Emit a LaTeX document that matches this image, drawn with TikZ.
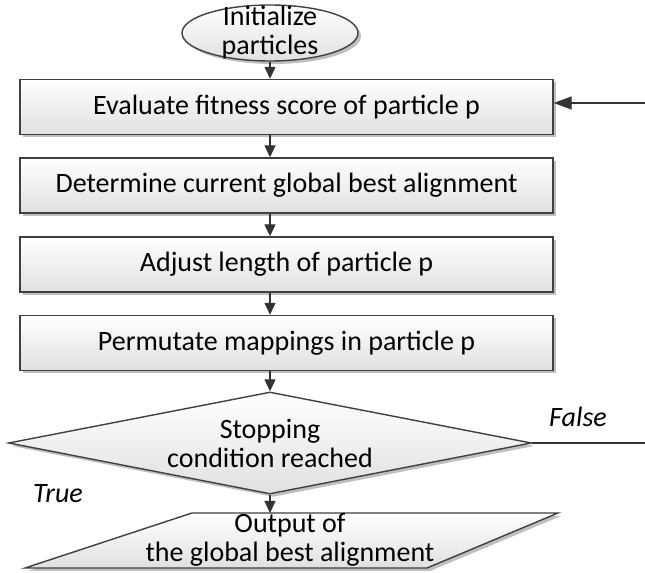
\documentclass[tikz,border=0pt]{standalone}
\usepackage{fontspec}
\setmainfont{Carlito}
\usetikzlibrary{shapes.geometric,shadows,arrows.meta}

\tikzset{
  base/.style={draw=black!75, line width=0.7pt, top color=white, bottom color=black!12,
    drop shadow={shadow xshift=1.5pt, shadow yshift=-1.5pt, opacity=0.25, fill=black}},
  procbox/.style={base, rectangle, minimum width=266.5pt, minimum height=27.5pt, inner sep=0pt},
  startell/.style={base, ellipse, minimum width=88pt, minimum height=28pt, inner sep=0pt},
  decide/.style={base, diamond, aspect=5.1, minimum width=261.5pt, minimum height=51pt,
    inner sep=0pt, align=center},
  line/.style={draw=black!80, line width=0.6pt},
  arr/.style={line, -{Triangle[length=6pt,width=5.5pt]}},
  bigarr/.style={line, -{Triangle[length=9pt,width=6.5pt]}},
  branch/.style={font=\fontsize{14}{14.5}\selectfont\itshape}
}

\begin{document}
\begin{tikzpicture}[x=0.5pt, y=-0.5pt, font=\fontsize{14}{14.5}\selectfont]
    \useasboundingbox (0,0) rectangle (645,573);

    % Start
    \node[startell, label={[align=center]center:Initialize\\particles}] (init) at (270,33) {};

    % Steps
    \node[procbox] (eval) at (286.5,107) {Evaluate fitness score of particle p};
    \node[procbox] (det) at (286.5,185.5) {Determine current global best alignment};
    \node[procbox] (adj) at (286.5,264.5) {Adjust length of particle p};
    \node[procbox] (perm) at (286.5,343) {Permutate mappings in particle p};

    % Decision
    \node[decide] (cond) at (270,443) {Stopping\\condition reached};

    % Output
    \coordinate (outtop) at (270,513);
    \path[base] (192,513) -- (558,513) -- (427,568) -- (25,568) -- cycle;
    \node[align=center] (out) at (290,540) {Output of\\the global best alignment};

    % Loop ends
    \coordinate (exit) at (645,443);
    \coordinate (back) at (645,103);

    % Connectors
    \draw[arr] (init.south) -- (init.south |- eval.north);
    \draw[arr] (eval.south -| init) -- (det.north -| init);
    \draw[arr] (det.south -| init) -- (adj.north -| init);
    \draw[arr] (adj.south -| init) -- (perm.north -| init);
    \draw[arr] (perm.south -| init) -- (cond.north);
    \draw[arr] (cond.south) -- (outtop);
    \draw[line] (cond.east) -- (exit);
    \draw[bigarr] (back) -- (back -| eval.east);

    % Branch labels
    \node[branch] (false) at (578,417) {False};
    \node[branch] (true) at (58,494) {True};
\end{tikzpicture}
\end{document}
